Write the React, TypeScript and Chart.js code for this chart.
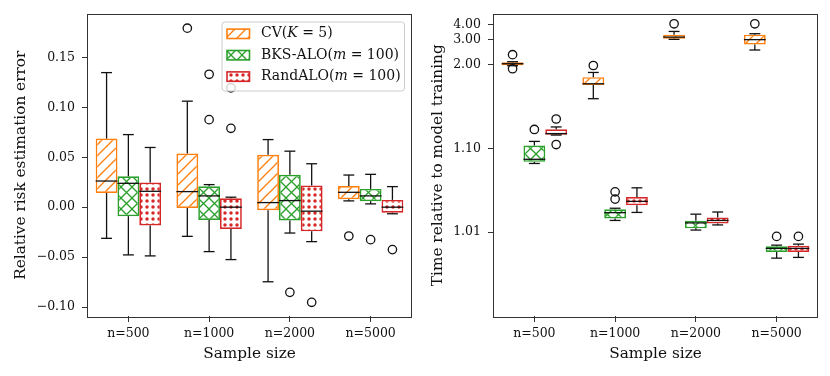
import React, { useEffect, useRef } from "react";
import { Chart, registerables } from "chart.js";

Chart.register(...registerables);

const FONT = '"DejaVu Serif", "Liberation Serif", serif';

const categories = ["n=500", "n=1000", "n=2000", "n=5000"];
const seriesColors = ["#ff7f0e", "#2ca02c", "#d62728"];
const seriesHatches = ["diag", "cross", "dots"];
// legend text segments: [text, italic?]
const legendCV: [string, boolean][] = [["CV(", false], ["K", true], [" = 5)", false]];
const legendBKS: [string, boolean][] = [["BKS-ALO(", false], ["m", true], [" = 100)", false]];
const legendRand: [string, boolean][] = [["RandALO(", false], ["m", true], [" = 100)", false]];

// Box stats per category: [lowWhisker, q1, median, q3, highWhisker]
const errCV = [
  [-0.0312, 0.0143, 0.0262, 0.0687, 0.1348],
  [-0.0292, -0.0007, 0.0156, 0.0538, 0.1062],
  [-0.0747, -0.003, 0.0046, 0.0525, 0.0677],
  [0.0063, 0.008, 0.0149, 0.0212, 0.0322],
];
const errBKS = [
  [-0.0478, -0.009, 0.0239, 0.0309, 0.0727],
  [-0.0445, -0.0129, 0.0113, 0.0209, 0.0226],
  [-0.0259, -0.0133, 0.0066, 0.0325, 0.0561],
  [0.0033, 0.006, 0.0113, 0.0183, 0.0329],
];
const errRand = [
  [-0.0488, -0.0183, 0.0159, 0.0246, 0.0598],
  [-0.0525, -0.0219, 0.0, 0.009, 0.01],
  [-0.0345, -0.0242, -0.004, 0.0216, 0.0435],
  [-0.0066, -0.0056, 0.0, 0.0073, 0.0206],
];
const errCVOut = [[], [0.1793], [], [-0.0289]];
const errBKSOut = [[], [0.1331, 0.0877], [-0.0853], [-0.0325]];
const errRandOut = [[], [0.1195, 0.079], [-0.0953], [-0.0425]];
const errTicks = [-0.1, -0.05, 0, 0.05, 0.1, 0.15];

const timeCV = [
  [1.968, 1.981, 2.022, 2.065, 2.08],
  [1.391, 1.568, 1.589, 1.707, 1.804],
  [2.995, 3.03, 3.125, 3.27, 3.48],
  [2.49, 2.727, 2.98, 3.27, 3.33],
];
const timeBKS = [
  [1.066, 1.069, 1.074, 1.108, 1.121],
  [1.0138, 1.0146, 1.0171, 1.0188, 1.0193],
  [1.0106, 1.0111, 1.0129, 1.0137, 1.0164],
  [1.0049, 1.0058, 1.0064, 1.0068, 1.007],
];
const timeRand = [
  [1.144, 1.145, 1.15, 1.169, 1.18],
  [1.0172, 1.021, 1.0233, 1.0262, 1.0338],
  [1.0122, 1.0127, 1.0138, 1.015, 1.0174],
  [1.005, 1.0058, 1.0064, 1.0069, 1.0072],
];
const timeCVOut = [[2.31, 1.89], [1.973], [4.06], [4.06]];
const timeBKSOut = [[1.168], [1.0303, 1.0248], [], [1.0089]];
const timeRandOut = [[1.224, 1.111], [], [], [1.0089]];
const timeTicks = [1.01, 1.1, 2.0, 3.0, 4.0];

function makePattern(ctx: CanvasRenderingContext2D, kind: string, color: string) {
  const S = kind === "dots" ? 6 : 11;
  const c = document.createElement("canvas");
  c.width = S;
  c.height = S;
  const g = c.getContext("2d")!;
  g.fillStyle = "#fff";
  g.fillRect(0, 0, S, S);
  g.strokeStyle = color;
  g.fillStyle = color;
  g.lineWidth = 1.3;
  const seg = (x1: number, y1: number, x2: number, y2: number) => {
    g.beginPath();
    g.moveTo(x1, y1);
    g.lineTo(x2, y2);
    g.stroke();
  };
  if (kind === "diag" || kind === "cross") {
    seg(-1, S + 1, S + 1, -1);
    seg(-2, 2, 2, -2);
    seg(S - 2, S + 2, S + 2, S - 2);
  }
  if (kind === "cross") {
    seg(-1, -1, S + 1, S + 1);
    seg(-2, S - 2, 2, S + 2);
    seg(S - 2, -2, S + 2, 2);
  }
  if (kind === "dots") {
    g.beginPath();
    g.arc(S / 2, S / 2, 1.75, 0, Math.PI * 2);
    g.fill();
  }
  return ctx.createPattern(c, "repeat")!;
}

type Cfg = {
  series: number[][][];
  outliers: number[][][];
  shift: number;
  log: boolean;
  yMin: number;
  yMax: number;
  yTicks: number[];
  fmt: (v: number) => string;
  yTitle: string;
  yWidth: number;
  rightPad: number;
  yTitlePad: number;
  legend: boolean;
};

function buildChart(canvas: HTMLCanvasElement, cfg: Cfg) {
  const ctx = canvas.getContext("2d")!;
  const patterns = seriesColors.map((c, i) => makePattern(ctx, seriesHatches[i], c));
  const legendTexts = [legendCV, legendBKS, legendRand];

  const boxPlugin = {
    id: "boxes",
    afterDatasetsDraw(chart: any) {
      const c = chart.ctx as CanvasRenderingContext2D;
      const ys = chart.scales.y;
      const px = (v: number) => ys.getPixelForValue(v - cfg.shift);
      c.save();
      c.strokeStyle = "#111";
      c.lineWidth = 1.3;
      const seg = (x1: number, y1: number, x2: number, y2: number) => {
        c.beginPath();
        c.moveTo(x1, y1);
        c.lineTo(x2, y2);
        c.stroke();
      };
      cfg.series.forEach((ser, s) => {
        const meta = chart.getDatasetMeta(s);
        ser.forEach((b, j) => {
          const el = meta.data[j];
          const cx = el.x;
          const w = el.width;
          const lo = Math.min(b[0], b[1]);
          const hi = Math.max(b[4], b[3]);
          seg(cx, px(b[3]), cx, px(hi));
          seg(cx, px(b[1]), cx, px(lo));
          seg(cx - w / 4, px(hi), cx + w / 4, px(hi));
          seg(cx - w / 4, px(lo), cx + w / 4, px(lo));
          seg(cx - w / 2, px(b[2]), cx + w / 2, px(b[2]));
          cfg.outliers[s][j].forEach((o) => {
            c.beginPath();
            c.arc(cx, px(o), 4.2, 0, Math.PI * 2);
            c.stroke();
          });
        });
      });
      c.restore();

      if (cfg.legend) {
        const a = chart.chartArea;
        const bx = a.right - 189.5;
        const by = a.top + 7;
        const bw = 182.5;
        const bh = 69;
        c.save();
        c.fillStyle = "rgba(255,255,255,0.8)";
        c.strokeStyle = "#cccccc";
        c.lineWidth = 1;
        c.beginPath();
        (c as any).roundRect(bx + 0.5, by + 0.5, bw, bh, 3);
        c.fill();
        c.stroke();
        legendTexts.forEach((segs, i) => {
          const cy = by + 12.3 + i * 21.4;
          c.fillStyle = patterns[i];
          c.fillRect(bx + 5.5, cy - 4.7, 22.5, 9.4);
          c.strokeStyle = seriesColors[i];
          c.lineWidth = 1.6;
          c.strokeRect(bx + 5.5, cy - 4.7, 22.5, 9.4);
          let x = bx + 39.5;
          c.fillStyle = "#111";
          c.textBaseline = "middle";
          c.textAlign = "left";
          segs.forEach(([t, it]) => {
            c.font = `${it ? "italic " : ""}14px ${FONT}`;
            c.fillText(t, x, cy);
            x += c.measureText(t).width;
          });
        });
        c.restore();
      }
    },
    afterDraw(chart: any) {
      const c = chart.ctx as CanvasRenderingContext2D;
      const a = chart.chartArea;
      c.save();
      c.strokeStyle = "#333";
      c.lineWidth = 1;
      c.strokeRect(Math.round(a.left) - 0.5, Math.round(a.top) - 0.5, Math.round(a.right - a.left) + 1, Math.round(a.bottom - a.top) + 1);
      c.restore();
    },
  };

  return new Chart(ctx, {
    type: "bar",
    data: {
      labels: categories,
      datasets: cfg.series.map((ser, s) => ({
        label: String(s),
        data: ser.map((b) => [b[1] - cfg.shift, b[3] - cfg.shift]),
        backgroundColor: patterns[s],
        borderColor: seriesColors[s],
        borderWidth: 1.7,
        borderSkipped: false,
        categoryPercentage: 0.81,
        barPercentage: 1,
      })) as any,
    },
    options: {
      animation: false,
      responsive: false,
      devicePixelRatio: 1,
      events: [],
      layout: { padding: { top: 13, right: cfg.rightPad, left: 0, bottom: 0 } },
      plugins: { legend: { display: false }, tooltip: { enabled: false } },
      scales: {
        x: {
          afterFit: (s: any) => {
            s.height = 60;
          },
          grid: { display: true, drawOnChartArea: false, drawTicks: true, tickLength: 6, color: "#333", offset: false },
          border: { display: false },
          ticks: { font: { family: FONT, size: 12.5 }, color: "#111", padding: 4 },
          title: { display: true, text: "Sample size", font: { family: FONT, size: 15.3 }, color: "#111", padding: { top: 0, bottom: 13 } },
        },
        y: {
          type: cfg.log ? "logarithmic" : "linear",
          min: cfg.yMin,
          max: cfg.yMax,
          afterBuildTicks: (s: any) => {
            s.ticks = cfg.yTicks.map((v) => ({ value: v - cfg.shift }));
          },
          afterFit: (s: any) => {
            s.width = cfg.yWidth;
          },
          grid: { display: true, drawOnChartArea: false, drawTicks: true, tickLength: 6, color: "#333" },
          border: { display: false },
          ticks: {
            font: { family: FONT, size: 12.5 },
            color: "#111",
            padding: 7,
            autoSkip: false,
            callback: (v: any) => cfg.fmt(Number(v) + cfg.shift),
          },
          title: { display: true, text: cfg.yTitle, font: { family: FONT, size: 15.3 }, color: "#111", padding: { top: cfg.yTitlePad, bottom: 0 } },
        } as any,
      },
    },
    plugins: [boxPlugin],
  });
}

export default function App() {
  const leftRef = useRef<HTMLCanvasElement>(null);
  const rightRef = useRef<HTMLCanvasElement>(null);
  useEffect(() => {
    const left = buildChart(leftRef.current!, {
      series: [errCV, errBKS, errRand],
      outliers: [errCVOut, errBKSOut, errRandOut],
      shift: 0,
      log: false,
      yMin: -0.109,
      yMax: 0.193,
      yTicks: errTicks,
      fmt: (v) => {
        const r = Math.round(v * 100) / 100;
        const s = Math.abs(r).toFixed(2);
        return r < 0 ? "\u2212" + s : s;
      },
      yTitle: "Relative risk estimation error",
      yWidth: 88,
      rightPad: 4,
      yTitlePad: 12,
      legend: true,
    });
    const right = buildChart(rightRef.current!, {
      series: [timeCV, timeBKS, timeRand],
      outliers: [timeCVOut, timeBKSOut, timeRandOut],
      shift: 1,
      log: true,
      yMin: 0.001,
      yMax: 3.95,
      yTicks: timeTicks,
      fmt: (v) => v.toFixed(2),
      yTitle: "Time relative to model training",
      yWidth: 79,
      rightPad: 13,
      yTitlePad: 14,
      legend: false,
    });
    return () => {
      left.destroy();
      right.destroy();
    };
  }, []);
  return (
    <div style={{ position: "absolute", left: 0, top: 0, width: 830, height: 376, background: "#fff", display: "flex" }}>
      <canvas ref={leftRef} width={415} height={376} style={{ display: "block", width: 415, height: 376 }} />
      <canvas ref={rightRef} width={415} height={376} style={{ display: "block", width: 415, height: 376 }} />
    </div>
  );
}
